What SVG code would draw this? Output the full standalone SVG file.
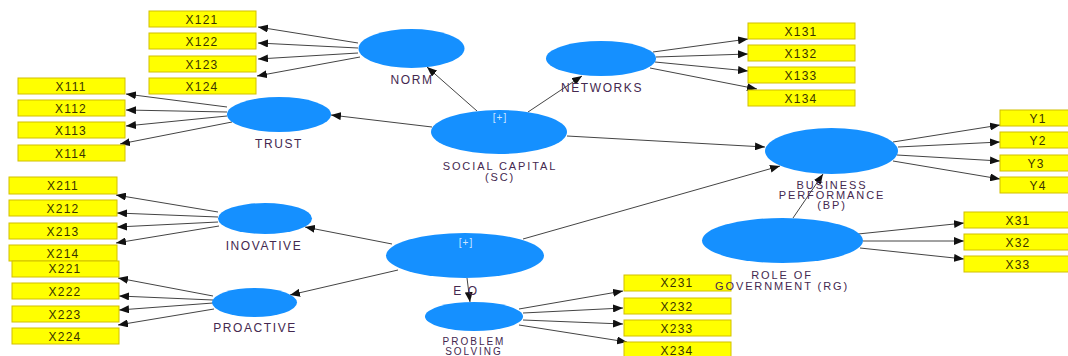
<svg xmlns="http://www.w3.org/2000/svg" width="1068" height="356" viewBox="0 0 1068 356">
<style>
.bg{fill:#ffffff}
.ind rect{fill:#ffff00;stroke:#d2c000;stroke-width:1}
.ind text{font-family:"Liberation Sans",Arial,sans-serif;font-size:12px;fill:#3a3300;text-anchor:middle;letter-spacing:1.2px}
.lv ellipse{fill:#1590ff}
.lbl{font-family:"Liberation Sans",Arial,sans-serif;font-size:12px;fill:#44284f;text-anchor:middle;letter-spacing:1.6px}
.ml{font-size:11px;letter-spacing:1.9px}
.sm{font-size:10px;letter-spacing:2px}
.plus{font-family:"Liberation Sans",Arial,sans-serif;font-size:10px;fill:#cfe6ff;text-anchor:middle;letter-spacing:1px}
.conn line{stroke:#444444;stroke-width:1;marker-end:url(#ah)}
</style>
<defs>
<marker id="ah" viewBox="0 0 10 8" refX="10" refY="4" markerWidth="10" markerHeight="8" markerUnits="userSpaceOnUse" orient="auto">
<path d="M0,0 L10,4 L0,8 Z" fill="#111"/>
</marker>
</defs>
<rect class="bg" x="0" y="0" width="1068" height="356"/>

<g id="connectors" class="conn">
<line x1="358" y1="43" x2="258" y2="27"/>
<line x1="358" y1="48" x2="258" y2="43"/>
<line x1="358" y1="53" x2="258" y2="59"/>
<line x1="360" y1="57" x2="257" y2="76"/>
<line x1="227" y1="107" x2="126" y2="94"/>
<line x1="227" y1="112" x2="126" y2="110"/>
<line x1="227" y1="116" x2="126" y2="126"/>
<line x1="232" y1="122" x2="120" y2="144"/>
<line x1="653" y1="52" x2="748" y2="39"/>
<line x1="656" y1="57" x2="748" y2="54"/>
<line x1="655" y1="62" x2="748" y2="71"/>
<line x1="650" y1="68" x2="757" y2="89"/>
<line x1="477" y1="111" x2="427" y2="67"/>
<line x1="528" y1="112" x2="582" y2="76"/>
<line x1="432" y1="127" x2="331" y2="115"/>
<line x1="567" y1="136" x2="765" y2="147"/>
<line x1="893" y1="142" x2="1000" y2="125"/>
<line x1="898" y1="147" x2="1000" y2="142"/>
<line x1="897" y1="155" x2="1000" y2="161"/>
<line x1="893" y1="161" x2="1000" y2="179"/>
<line x1="793" y1="218" x2="823" y2="174"/>
<line x1="858" y1="234" x2="964" y2="223"/>
<line x1="863" y1="241" x2="964" y2="241"/>
<line x1="860" y1="248" x2="964" y2="259"/>
<line x1="523" y1="239" x2="780" y2="166"/>
<line x1="392" y1="244" x2="305" y2="227"/>
<line x1="398" y1="270" x2="290" y2="295"/>
<line x1="467" y1="278" x2="470" y2="302"/>
<line x1="218" y1="212" x2="116" y2="195"/>
<line x1="218" y1="217" x2="117" y2="213"/>
<line x1="218" y1="222" x2="117" y2="227"/>
<line x1="219" y1="226" x2="116" y2="243"/>
<line x1="213" y1="296" x2="118" y2="278"/>
<line x1="213" y1="300" x2="119" y2="296"/>
<line x1="213" y1="303" x2="119" y2="310"/>
<line x1="214" y1="309" x2="118" y2="325"/>
<line x1="519" y1="309" x2="623" y2="291"/>
<line x1="523" y1="313" x2="623" y2="308"/>
<line x1="523" y1="320" x2="623" y2="324"/>
<line x1="519" y1="325" x2="627" y2="342"/>
</g>

<g id="X121" class="ind"><rect x="149" y="11" width="107" height="16"/><text x="202" y="23.5">X121</text></g>
<g id="X122" class="ind"><rect x="149" y="33" width="107" height="16"/><text x="202" y="45.5">X122</text></g>
<g id="X123" class="ind"><rect x="149" y="56" width="107" height="16"/><text x="202" y="68.5">X123</text></g>
<g id="X124" class="ind"><rect x="149" y="78" width="107" height="16"/><text x="202" y="90.5">X124</text></g>

<g id="X111" class="ind"><rect x="18" y="78" width="107" height="16"/><text x="71" y="90.5">X111</text></g>
<g id="X112" class="ind"><rect x="18" y="100" width="107" height="16"/><text x="71" y="112.5">X112</text></g>
<g id="X113" class="ind"><rect x="18" y="122" width="107" height="16"/><text x="71" y="134.5">X113</text></g>
<g id="X114" class="ind"><rect x="18" y="145" width="107" height="16"/><text x="71" y="157.5">X114</text></g>

<g id="X131" class="ind"><rect x="748" y="23" width="107" height="16"/><text x="801" y="35.5">X131</text></g>
<g id="X132" class="ind"><rect x="748" y="45" width="107" height="16"/><text x="801" y="57.5">X132</text></g>
<g id="X133" class="ind"><rect x="748" y="67" width="107" height="16"/><text x="801" y="79.5">X133</text></g>
<g id="X134" class="ind"><rect x="748" y="90" width="107" height="16"/><text x="801" y="102.5">X134</text></g>

<g id="Y1" class="ind"><rect x="1000" y="110" width="70" height="16"/><text x="1038" y="122.5">Y1</text></g>
<g id="Y2" class="ind"><rect x="1000" y="132" width="70" height="16"/><text x="1038" y="144.5">Y2</text></g>
<g id="Y3" class="ind"><rect x="1000" y="155" width="70" height="16"/><text x="1036" y="167.5">Y3</text></g>
<g id="Y4" class="ind"><rect x="1000" y="177" width="70" height="16"/><text x="1038" y="189.5">Y4</text></g>

<g id="X31" class="ind"><rect x="964" y="212" width="106" height="16"/><text x="1018" y="224.5">X31</text></g>
<g id="X32" class="ind"><rect x="964" y="234" width="106" height="16"/><text x="1018" y="246.5">X32</text></g>
<g id="X33" class="ind"><rect x="964" y="256" width="106" height="16"/><text x="1018" y="268.5">X33</text></g>

<g id="X211" class="ind"><rect x="9" y="177" width="108" height="17"/><text x="63" y="190">X211</text></g>
<g id="X212" class="ind"><rect x="9" y="200" width="108" height="16"/><text x="63" y="212.5">X212</text></g>
<g id="X213" class="ind"><rect x="9" y="223" width="108" height="16"/><text x="63" y="235.5">X213</text></g>
<g id="X214" class="ind"><rect x="9" y="245" width="108" height="16"/><text x="63" y="257.5">X214</text></g>

<g id="X221" class="ind"><rect x="12" y="261" width="107" height="16"/><text x="65" y="273">X221</text></g>
<g id="X222" class="ind"><rect x="12" y="283" width="107" height="16"/><text x="65" y="295.5">X222</text></g>
<g id="X223" class="ind"><rect x="12" y="306" width="107" height="16"/><text x="65" y="318.5">X223</text></g>
<g id="X224" class="ind"><rect x="12" y="328" width="107" height="16"/><text x="65" y="340.5">X224</text></g>

<g id="X231" class="ind"><rect x="624" y="275" width="107" height="16"/><text x="677" y="287">X231</text></g>
<g id="X232" class="ind"><rect x="624" y="298" width="107" height="16"/><text x="677" y="310.5">X232</text></g>
<g id="X233" class="ind"><rect x="624" y="320" width="107" height="16"/><text x="677" y="332.5">X233</text></g>
<g id="X234" class="ind"><rect x="624" y="342" width="107" height="16"/><text x="677" y="354.5">X234</text></g>

<g id="NORM" class="lv"><ellipse cx="411.5" cy="48.5" rx="53" ry="19.5"/><text class="lbl" x="412" y="83.5">NORM</text></g>
<g id="TRUST" class="lv"><ellipse cx="279" cy="114.5" rx="52" ry="17.5"/><text class="lbl" x="279" y="147.5">TRUST</text></g>
<g id="NETWORKS" class="lv"><ellipse cx="601" cy="58.5" rx="55" ry="17.5"/><text class="lbl" x="602" y="91.5">NETWORKS</text></g>
<g id="SC" class="lv"><ellipse cx="499" cy="132" rx="68" ry="22"/><text class="plus" x="500" y="121">[+]</text><text class="lbl ml" x="500" y="170">SOCIAL CAPITAL</text><text class="lbl ml" x="500" y="180.5">(SC)</text></g>
<g id="BP" class="lv"><ellipse cx="831.5" cy="151" rx="66.5" ry="23"/><text class="lbl ml" x="832" y="188.5">BUSINESS</text><text class="lbl ml" x="832" y="198.5">PERFORMANCE</text><text class="lbl ml" x="832" y="209">(BP)</text></g>
<g id="RG" class="lv"><ellipse cx="782.5" cy="240.5" rx="80.5" ry="22.5"/><text class="lbl ml" x="782" y="279">ROLE OF</text><text class="lbl ml" x="782" y="290">GOVERNMENT (RG)</text></g>
<g id="INOVATIVE" class="lv"><ellipse cx="265" cy="218.5" rx="47" ry="15.5"/><text class="lbl" x="264" y="250">INOVATIVE</text></g>
<g id="PROACTIVE" class="lv"><ellipse cx="254.5" cy="302.5" rx="42.5" ry="14.5"/><text class="lbl" x="255" y="332">PROACTIVE</text></g>
<g id="EO" class="lv"><ellipse cx="465" cy="255.5" rx="79" ry="22.5"/><text class="plus" x="466" y="245.5">[+]</text><text class="lbl" x="466" y="295">E O</text></g>
<g id="PS" class="lv"><ellipse cx="474" cy="316.5" rx="49" ry="14.5"/><text class="lbl sm" x="474" y="344.5">PROBLEM</text><text class="lbl sm" x="474" y="355">SOLVING</text></g>
</svg>
